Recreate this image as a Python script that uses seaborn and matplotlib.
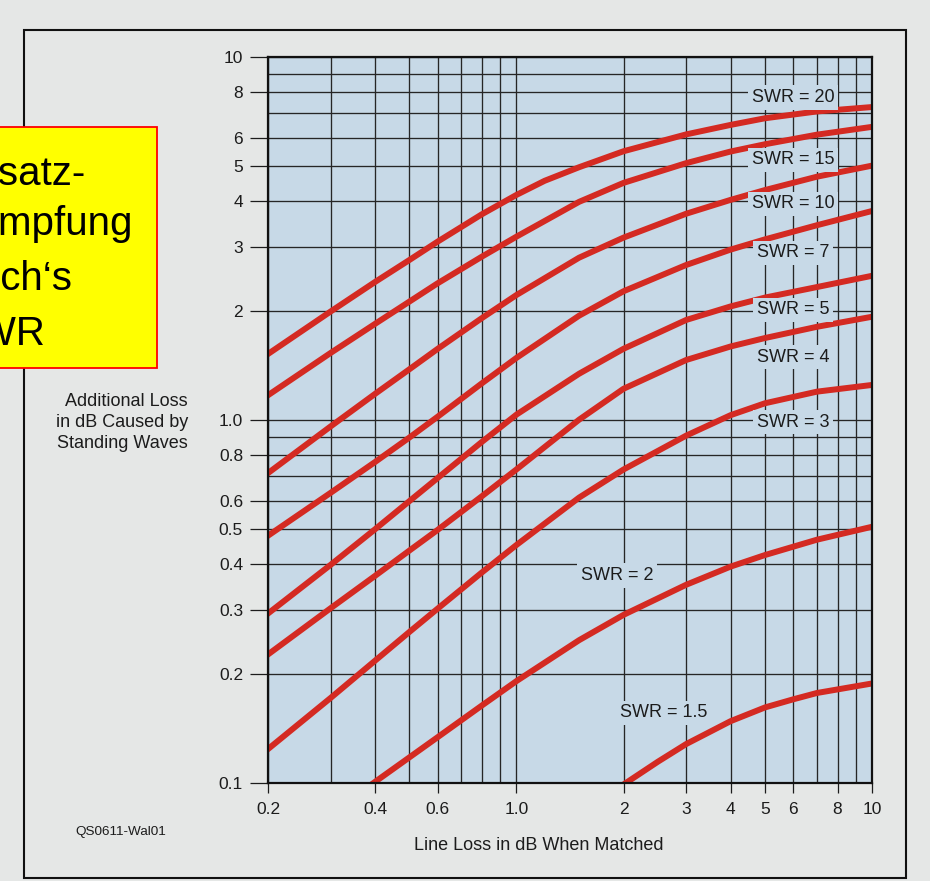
import numpy as np
import pandas as pd
import matplotlib.pyplot as plt
import matplotlib.ticker as mticker
from matplotlib.patches import Rectangle
import seaborn as sns

plt.rcParams['font.family'] = ['Liberation Sans', 'DejaVu Sans']

# Kurven (Leitungsdaempfung -> Zusatzdaempfung, dB)
swr20_x = [0.2, 0.3, 0.4, 0.5, 0.6, 0.8, 1.0, 1.2, 1.5, 2, 3, 4, 5, 7, 10]
swr20_y = [1.52, 1.99, 2.40, 2.76, 3.10, 3.69, 4.17, 4.56, 4.97, 5.50, 6.12, 6.50, 6.78, 7.08, 7.28]

swr15_x = [0.2, 0.3, 0.4, 0.5, 0.6, 0.8, 1.0, 1.5, 2, 3, 4, 5, 7, 10]
swr15_y = [1.17, 1.53, 1.84, 2.12, 2.38, 2.82, 3.20, 3.99, 4.50, 5.10, 5.49, 5.75, 6.11, 6.42]

swr10_x = [0.2, 0.3, 0.4, 0.5, 0.6, 0.8, 1.0, 1.5, 2, 3, 4, 5, 7, 10]
swr10_y = [0.714, 0.96, 1.18, 1.38, 1.57, 1.91, 2.21, 2.80, 3.18, 3.70, 4.04, 4.30, 4.68, 5.02]

swr7_x = [0.2, 0.3, 0.4, 0.5, 0.6, 0.8, 1.0, 1.5, 2, 3, 4, 5, 7, 10]
swr7_y = [0.480, 0.630, 0.766, 0.895, 1.021, 1.263, 1.483, 1.938, 2.263, 2.673, 2.947, 3.145, 3.44, 3.765]

swr5_x = [0.2, 0.3, 0.4, 0.5, 0.6, 0.8, 1.0, 1.5, 2, 3, 4, 5, 7, 10]
swr5_y = [0.293, 0.399, 0.500, 0.598, 0.692, 0.871, 1.035, 1.341, 1.571, 1.886, 2.055, 2.174, 2.324, 2.496]

swr4_x = [0.2, 0.3, 0.4, 0.5, 0.6, 0.8, 1.0, 1.5, 2, 3, 4, 5, 7, 10]
swr4_y = [0.226, 0.303, 0.372, 0.437, 0.498, 0.617, 0.731, 1.002, 1.219, 1.463, 1.594, 1.682, 1.806, 1.925]

swr3_x = [0.2, 0.3, 0.4, 0.5, 0.6, 0.8, 1.0, 1.5, 2, 3, 4, 5, 7, 10]
swr3_y = [0.124, 0.1715, 0.2172, 0.2608, 0.3022, 0.3805, 0.4527, 0.6113, 0.7305, 0.9055, 1.031, 1.112, 1.197, 1.249]

swr2_x = [0.396, 0.5, 0.6, 0.8, 1.0, 1.5, 2, 3, 4, 5, 7, 10]
swr2_y = [0.100, 0.1177, 0.1337, 0.1636, 0.1909, 0.2474, 0.2905, 0.3516, 0.3945, 0.4246, 0.468, 0.508]

swr1_5_x = [2.03, 2.5, 3, 4, 5, 6, 7, 10]
swr1_5_y = [0.100, 0.1145, 0.128, 0.148, 0.1615, 0.170, 0.177, 0.188]

x_ticks = [0.2, 0.4, 0.6, 1.0, 2, 3, 4, 5, 6, 8, 10]
x_tick_labels = ['0.2', '0.4', '0.6', '1.0', '2', '3', '4', '5', '6', '8', '10']
x_grid_extra = [0.3, 0.5, 0.7, 0.8, 0.9, 7, 9]
y_ticks = [0.1, 0.2, 0.3, 0.4, 0.5, 0.6, 0.8, 1.0, 2, 3, 4, 5, 6, 8, 10]
y_tick_labels = ['0.1', '0.2', '0.3', '0.4', '0.5', '0.6', '0.8', '1.0',
                 '2', '3', '4', '5', '6', '8', '10']
y_grid_extra = [0.7, 0.9, 7, 9]

curves = {
    'SWR = 20': (swr20_x, swr20_y),
    'SWR = 15': (swr15_x, swr15_y),
    'SWR = 10': (swr10_x, swr10_y),
    'SWR = 7': (swr7_x, swr7_y),
    'SWR = 5': (swr5_x, swr5_y),
    'SWR = 4': (swr4_x, swr4_y),
    'SWR = 3': (swr3_x, swr3_y),
    'SWR = 2': (swr2_x, swr2_y),
    'SWR = 1.5': (swr1_5_x, swr1_5_y),
}
df = pd.concat([pd.DataFrame({'swr': k, 'loss': xs, 'extra': ys})
                for k, (xs, ys) in curves.items()], ignore_index=True)

W, H = 930, 881
def fx(x):
    return x / W
def fy(y):
    return 1 - y / H

paper = '#e5e7e6'
blue = '#c7d9e7'
red = '#d42a22'
ink = '#1c1c1c'

fig = plt.figure(figsize=(W / 100, H / 100), dpi=100, facecolor=paper)
ax = fig.add_axes([fx(268), fy(783), (872 - 268) / W, (783 - 57) / H])
ax.set_facecolor(blue)
ax.set_xscale('log')
ax.set_yscale('log')

sns.lineplot(data=df, x='loss', y='extra', hue='swr', estimator=None, sort=False,
             palette={k: red for k in curves}, legend=False, lw=4.3,
             solid_joinstyle='round', ax=ax)

ax.set_xlim(0.2, 10)
ax.set_ylim(0.1, 10)
ax.set_xticks(x_ticks, x_tick_labels)
ax.set_xticks(x_grid_extra, minor=True)
ax.set_yticks(y_ticks, y_tick_labels)
ax.set_yticks(y_grid_extra, minor=True)
ax.xaxis.set_minor_formatter(mticker.NullFormatter())
ax.yaxis.set_minor_formatter(mticker.NullFormatter())
ax.grid(True, which='both', color='#262626', lw=0.95)
ax.tick_params(which='minor', length=0)
ax.tick_params(axis='x', which='major', length=7.5, width=0.9, pad=6,
               labelsize=12.5, colors=ink)
ax.tick_params(axis='y', which='major', length=13, width=0.9, pad=5,
               labelsize=12.5, colors=ink)
for s in ax.spines.values():
    s.set_linewidth(1.6)
    s.set_color('#111111')
ax.set_xlabel('')
ax.set_ylabel('')

# Kurvenbeschriftungen
label_pos = [('SWR = 20', 6.0, 7.73), ('SWR = 15', 6.0, 5.21), ('SWR = 10', 6.0, 3.94),
             ('SWR = 7', 6.0, 2.89), ('SWR = 5', 6.0, 2.01), ('SWR = 4', 6.0, 1.49),
             ('SWR = 3', 6.0, 0.985), ('SWR = 2', 1.92, 0.373), ('SWR = 1.5', 2.6, 0.156)]
for txt, lx, ly in label_pos:
    ax.text(lx, ly, txt, ha='center', va='center', fontsize=13, color=ink, zorder=4,
            bbox=dict(boxstyle='square,pad=0.2', fc=blue, ec='none'))

fig.text(fx(539), fy(846), 'Line Loss in dB When Matched', ha='center', va='center',
         fontsize=13, color=ink)
for t, yb in [('Additional Loss', 406), ('in dB Caused by', 427), ('Standing Waves', 448)]:
    fig.text(fx(188), fy(yb), t, ha='right', va='baseline', fontsize=13, color=ink)
fig.text(fx(75), fy(832), 'QS0611-Wal01', ha='left', va='center', fontsize=9.7, color=ink)

# Rahmen
fig.add_artist(Rectangle((fx(24), fy(878)), (906 - 24) / W, (878 - 30) / H,
                         transform=fig.transFigure, fill=False, ec='#111111', lw=1.5, zorder=1))

# gelber Kasten, links angeschnitten
fig.add_artist(Rectangle((fx(-5), fy(368)), 162 / W, (368 - 127) / H,
                         transform=fig.transFigure, fc='#ffff00', ec='#ff0000', lw=1.3, zorder=5))
for t, xr, yb in [('Zusatz-', 86, 185), ('dämpfung', 133, 235),
                  ('durch\u2018s', 72, 290), ('SWR', 45, 345)]:
    fig.text(fx(xr), fy(yb), t, ha='right', va='baseline', fontsize=29, color='black', zorder=6)

fig.savefig('out.png', dpi=100, facecolor=paper)
